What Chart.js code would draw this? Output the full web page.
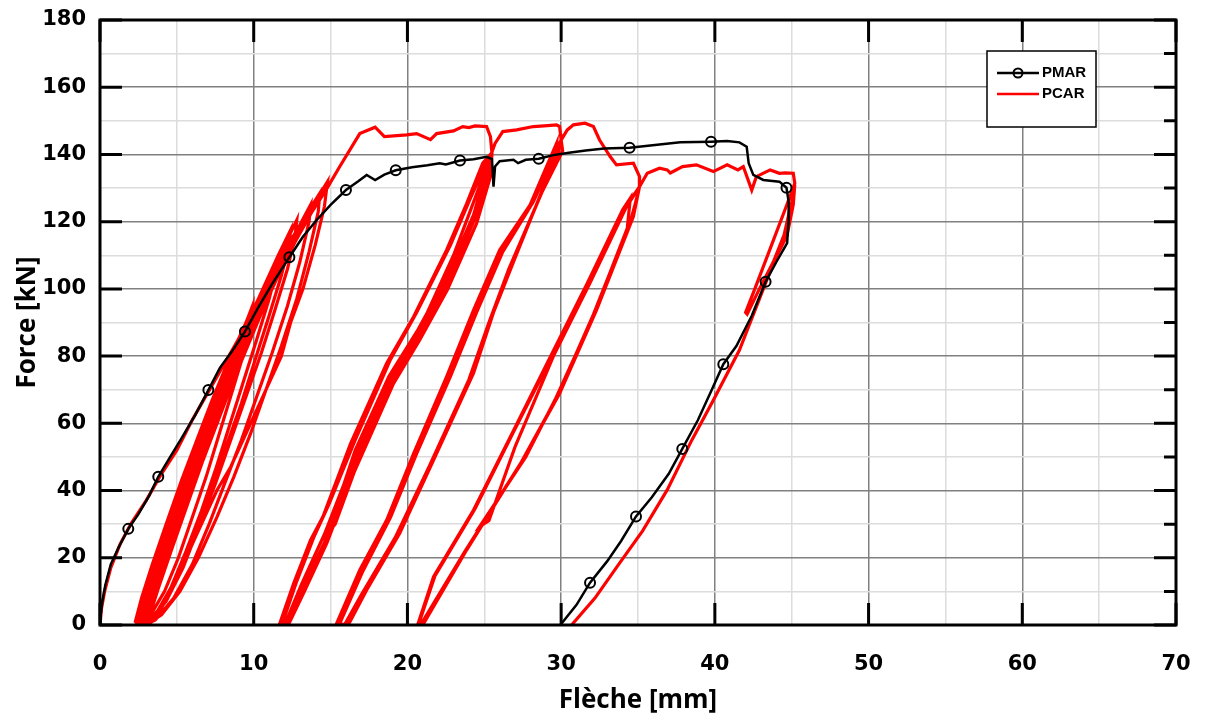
<!DOCTYPE html>
<html>
<head>
<meta charset="utf-8">
<script src="https://cdn.jsdelivr.net/npm/chart.js@4.4.1/dist/chart.umd.min.js"></script>
<style>
  html, body { margin: 0; padding: 0; background: #fff; }
</style>
</head>
<body>
<canvas id="chart" width="1205" height="720"></canvas>
<script>
// PMAR (monotonic test) - black line with circle markers
const pmarX = [0, 0.05, 0.15, 0.35, 0.7, 1.2, 1.84, 2.5, 3.2, 3.79, 4.5, 5.3, 6.2, 7.05, 7.8, 8.6, 9.43,
  10.3, 11.2, 12.32, 13.2, 14.1, 15.0, 16.0, 16.8, 17.35, 17.9, 18.5, 19.24, 20.3, 21.3, 22.1, 22.5,
  23.42, 24.3, 25.15, 25.5, 25.6, 25.7, 26, 26.9, 27.2, 27.7, 28.54, 29.5, 30.5, 31.6, 32.8, 34.45,
  35.5, 36.7, 37.75, 38.8, 39.75, 40.8, 41.6, 42.07, 42.2, 42.5, 43.15, 44.2, 44.66, 44.8, 44.8,
  44.7, 44.0, 43.3, 42.4, 41.4, 40.55, 39.8, 38.9, 37.88, 37.0, 35.9, 34.87, 33.9, 33, 31.88, 31.0,
  30.3, 29.95];
const pmarY = [0, 3, 7, 12, 18, 23, 28.6, 33, 38.5, 44.1, 49.5, 55.5, 62.5, 69.9, 76.5, 81.5, 87.3,
  94.5, 101.5, 109.4, 115.5, 120.5, 125, 129.4, 132, 133.9, 132.4, 134, 135.3, 136.2, 136.8, 137.4, 137,
  138.2, 138.6, 139.3, 138.6, 130.4, 136.4, 138, 138.4, 137.4, 138.4, 138.7, 139.8, 140.5, 141.2, 141.8, 142,
  142.5, 143.1, 143.6, 143.7, 143.8, 144, 143.6, 142.3, 137.4, 133.9, 132.4, 131.9, 130.1, 126, 120.5,
  113.6, 108, 102.1, 92, 83, 77.6, 70, 61, 52.4, 45, 38, 32.3, 25, 19, 12.6, 6,
  2, 0];
// indices of the PMAR points that carry a circle marker
const pmarMarkers = [6, 9, 13, 16, 19, 23, 28, 33, 43, 48, 53, 61, 66, 69, 72, 75, 78];

// PCAR (cyclic test) - red line, in order of the loading history
const pcarFirstLoad = [[0,0],[0.1,5],[0.3,10],[0.7,17],[1.3,24],[2,30],[3,37],[4,45],[5,52],[6,61],
  [7,69],[8,77],[9,85],[9.5,90],[9.9,94.7]];
const pcarGroup1 = [
  [9.8,90],[9.3,80],[8.5,68],[7.7,56],[6.9,44],[6.0,32],[5.1,20],[4.2,10],[3.3,3],[2.5,0],
  [2.3,1],[2.7,8],[3.4,18],[4.3,30],[5.3,43],[6.3,55],[7.3,67],[8.3,78],[9.3,88],[10.3,97],[11.0,103],[11.5,107.7],
  [11.4,104],[11.0,97],[10.2,85],[9.3,72],[8.4,59],[7.5,46],[6.6,34],[5.6,22],[4.6,11],[3.6,3],[2.6,0],
  [2.4,1],[2.9,9],[3.7,20],[4.7,33],[5.7,46],[6.7,58],[7.7,70],[8.7,81],[9.7,91],[10.7,101],[11.6,110],[12.4,117.5],
  [12.3,113],[11.8,104],[11.0,92],[10.1,79],[9.2,66],[8.2,53],[7.2,40],[6.2,28],[5.2,16],[4.1,6],[3.0,0.5],[2.7,0],
  [2.5,1],[3.1,10],[3.9,21],[4.9,34],[5.9,47],[6.9,59],[7.9,71],[8.9,82],[9.9,92],[10.9,102],[11.9,112],[12.8,120.5],
  [12.7,116],[12.2,106],[11.4,94],[10.5,81],[9.5,68],[8.5,55],[7.5,42],[6.5,30],[5.4,17],[4.3,7],[3.2,1],[2.8,0],
  [2.6,1],[3.3,11],[4.1,22],[5.1,35],[6.1,48],[7.1,60],[8.1,72],[9.1,83],[10.1,93],[11.1,103],[12.1,112],[13.0,119],[13.7,125],
  [13.6,120],[13.0,108],[12.2,95],[11.2,81],[10.2,68],[9.2,55],[8.1,42],[7.1,30],[6.0,18],[4.8,8],[3.6,1.5],[2.9,0],
  [2.7,1],[3.4,11],[4.3,23],[5.3,36],[6.3,49],[7.3,61],[8.3,73],[9.3,84],[10.3,94],[11.3,104],[12.3,113],[13.4,122],[14.3,128.5],
  [14.2,123],[13.6,111],[12.8,97],[11.8,83],[10.8,70],[9.8,57],[8.7,44],[7.6,32],[6.4,20],[5.2,10],[4.0,3],[3.0,0],
  [2.9,1],[3.6,11],[4.5,23],[5.5,36],[6.5,49],[7.5,61],[8.5,73],[9.5,84],[10.5,95],[11.5,105],[12.5,114],[13.6,123],[14.8,131.9],
  [14.6,124.5],[14.0,113],[13.2,100],[12.4,90],[11.8,80],[10.6,68],[9.4,56],[8.5,47],[7.6,40],[6.4,28],[5.6,20],[4.9,13],[4.0,5],[3.2,0],
  [3.1,1],[3.8,11],[4.7,23],[5.7,36],[6.7,49],[7.7,61],[8.7,73],[9.7,84],[10.7,95],[11.7,105],[12.7,114],[13.8,123],[14.7,129.4]
];
const pcarPlateau1 = [[15.6,136.4],[16.9,146.2],[17.9,148.1],[18.5,145.3],[19.95,145.8],[20.6,146.2],[21.5,144.4],
  [21.9,146.2],[23,147],[23.6,148.3],[24,148],[24.4,148.5],[25.15,148.3],[25.4,145.3],[25.5,140.3]];
const pcarGroup2 = [
  [25.4,133.4],[24.5,119.5],[22.6,99.7],[20.8,84.8],[19.1,71.9],[16.5,45.1],[14.75,24.3],[13.3,10],[12.25,0],
  [11.7,0.5],[12.6,12.4],[13.7,25.3],[14.5,32.2],[16.3,54],[18.65,77.9],[20.4,91.7],[22.55,111.6],[23.85,125.4],[24.9,137.4],[25.3,139.5],
  [25.2,135],[24.2,120],[22.4,101],[20.6,86],[18.9,73],[16.3,47],[14.6,27],[13.1,12],[12.1,1],[12.0,0],
  [11.9,1],[12.8,13],[13.9,26],[14.9,36],[16.6,55],[18.9,79],[20.6,93],[22.8,113],[24.1,127],[25.0,136],[25.3,138],
  [24.3,122],[22.5,103],[20.7,88],[18.8,74],[16.6,52],[15.0,30],[14.8,27.3],
  [15.3,30],[16.9,50],[19.2,76],[21,90],[23,110],[24.4,127],[25.4,139.3],
  [25.3,134],[24.4,121],[22.5,100.5],[20.7,85.5],[19.0,72.5],[16.4,46],[14.7,25.5],[13.2,11],[12.2,0.5],[11.8,0],
  [11.8,1],[12.7,12.8],[13.8,25.6],[14.7,34],[16.45,54.5],[18.8,78.5],[20.5,92.3],[22.7,112.3],[24.0,126.2],[24.95,136.8],[25.4,139.5]
];
const pcarPlateau2 = [[25.7,143.3],[26.2,146.8],[27.1,147.3],[28.2,148.3],[28.9,148.5],[29.7,148.8],[29.9,148.3],[30.0,144.3]];
const pcarGroup3 = [
  [30.1,141],[28.6,127.4],[26.9,108],[25.6,93],[24.3,74.9],[21.7,49.1],[19.5,27.3],[17.35,10.4],[16.15,0],
  [15.4,0.5],[16.9,16.4],[18.65,31.2],[20.4,51],[22.55,73.9],[24.3,93.7],[26,111.6],[27.98,125],[29.7,143.3],
  [29.6,139],[28.3,124],[26.6,106],[25.3,90],[24.0,73],[21.4,47],[19.2,26],[17.0,9],[15.9,0],
  [15.6,0.5],[17.1,16],[18.9,32],[20.6,51],[22.8,74],[24.5,93],[26.2,111],[28.2,126],[29.9,143],
  [29.8,140],[28.45,125.5],[26.75,107],[25.45,91.5],[24.15,74],[21.55,48],[19.35,26.6],[17.2,9.7],[16.0,0],
  [15.5,0.5],[17.0,16.2],[18.8,31.6],[20.5,51],[22.7,74],[24.4,93.3],[26.1,111.3],[28.1,125.5],[29.9,143.5]
];
const pcarPeak3 = [[30.4,147.3],[30.8,148.8],[31.55,149.3],[32.1,148.3],[32.5,144.3],[33.2,139.3],[33.6,136.9],
  [34.7,137.4],[35.1,133.4],[35.1,130.4]];
const pcarGroup4 = [
  [34.7,121.5],[32.3,93.7],[29.9,68.9],[27.5,49.1],[23.85,22.3],[21.0,0],
  [20.7,0.5],[21.7,14.4],[24.3,34.2],[26.7,56],[29.3,79.8],[31.7,101.7],[34.0,123.5],[34.5,127],
  [34.3,118],[32.0,91],[29.6,67],[27.7,50],[24.7,29.3],
  [25.3,31],[27.0,53],[29.5,80],[31.9,102],[34.2,124],[35.1,130.4],
  [34.8,125],[34.5,120],[32.1,92.4],[29.75,68],[27.35,48],[23.7,21.6],[20.85,0],
  [20.75,0.5],[21.8,14.7],[24.4,34.6],[26.8,56.5],[29.4,79.9],[31.8,101.8],[34.1,123.8],[35.1,130.4]
];
const pcarPlateau4 = [[35.6,134.4],[36.4,135.9],[36.9,135.4],[37.1,134.5],[37.9,136.4],[38.8,136.9],[39.9,134.9],
  [40.8,136.9],[41.5,135.4],[41.85,136.4],[42.4,129.4],[42.7,133.4],[43.6,135.4],[44.2,134.4],[44.57,134.5],
  [45.1,134.4],[45.2,131.4]];
const pcarLastUnload = [[44.6,124],[43.6,112],[42.6,100],[42.0,93],[42.1,92.5],[42.9,100],[43.8,108],[44.5,116],
  [45.0,126],[45.2,131],[45.1,125],[44.7,116],[43.8,107.6],[42.9,97],[41.6,81.8],[39.9,66.9],[38.5,55],
  [36.9,40.2],[35.3,28],[33.8,18.4],[32.2,8],[30.68,0]];

const xTickLabels = [0, 10, 20, 30, 40, 50, 60, 70];
const yTickLabels = [0, 20, 40, 60, 80, 100, 120, 140, 160, 180];

const pmarData = pmarX.map((x, i) => ({ x: x, y: pmarY[i] }));
const pcarData = [].concat(pcarFirstLoad, pcarGroup1, pcarPlateau1, pcarGroup2, pcarPlateau2,
  pcarGroup3, pcarPeak3, pcarGroup4, pcarPlateau4, pcarLastUnload).map(p => ({ x: p[0], y: p[1] }));

const tickFont = { family: 'DejaVu Sans', weight: 'bold', size: 21 };
const titleFont = { family: 'Open Sans', weight: 'bold', size: 26 };

// frame and inward ticks on all four sides
const framePlugin = {
  id: 'frame',
  afterDatasetsDraw(chart) {
    const { ctx, chartArea: a, scales } = chart;
    const x = scales.x, y = scales.y;
    ctx.save();
    ctx.strokeStyle = '#000';
    ctx.lineWidth = 3;
    ctx.beginPath();
    xTickLabels.forEach(v => {
      const px = x.getPixelForValue(v);
      ctx.moveTo(px, a.bottom); ctx.lineTo(px, a.bottom - 22);
      ctx.moveTo(px, a.top); ctx.lineTo(px, a.top + 22);
    });
    for (let v = 0; v <= 180; v += 10) {
      const py = y.getPixelForValue(v);
      const major = v % 20 === 0;
      if (major) { ctx.moveTo(a.left, py); ctx.lineTo(a.left + 22, py); }
      ctx.moveTo(a.right, py); ctx.lineTo(a.right - (major ? 22 : 12), py);
    }
    ctx.stroke();
    ctx.strokeRect(a.left, a.top, a.right - a.left, a.bottom - a.top);
    ctx.restore();
  }
};

// boxed legend inside the plot, top right
const legendPlugin = {
  id: 'boxLegend',
  afterDraw(chart) {
    const { ctx, chartArea: a } = chart;
    const left = a.right - 189, top = a.top + 31;
    ctx.save();
    ctx.fillStyle = '#fff';
    ctx.fillRect(left, top, 109, 76);
    ctx.strokeStyle = '#000';
    ctx.lineWidth = 1.5;
    ctx.strokeRect(left, top, 109, 76);
    ctx.lineWidth = 2.5;
    ctx.beginPath();
    ctx.moveTo(left + 10, top + 22); ctx.lineTo(left + 52, top + 22);
    ctx.stroke();
    ctx.beginPath();
    ctx.arc(left + 31, top + 22, 4.5, 0, Math.PI * 2);
    ctx.lineWidth = 2;
    ctx.stroke();
    ctx.strokeStyle = '#ff0000';
    ctx.lineWidth = 2.5;
    ctx.beginPath();
    ctx.moveTo(left + 10, top + 43); ctx.lineTo(left + 52, top + 43);
    ctx.stroke();
    ctx.fillStyle = '#000';
    ctx.font = 'bold 15px "Liberation Sans", Arial, sans-serif';
    ctx.textBaseline = 'middle';
    ctx.fillText('PMAR', left + 55, top + 22);
    ctx.fillText('PCAR', left + 55, top + 43);
    ctx.restore();
  }
};

new Chart(document.getElementById('chart'), {
  type: 'scatter',
  data: {
    datasets: [
      {
        label: 'PMAR',
        data: pmarData,
        showLine: true,
        borderColor: '#000',
        borderWidth: 2.5,
        pointRadius: ctx => pmarMarkers.includes(ctx.dataIndex) ? 5 : 0,
        pointBorderWidth: 2,
        pointBorderColor: '#000',
        pointBackgroundColor: 'rgba(0,0,0,0)',
        pointHoverRadius: 0
      },
      {
        label: 'PCAR',
        data: pcarData,
        showLine: true,
        borderColor: '#ff0000',
        borderWidth: 3.2,
        pointRadius: 0,
        pointHoverRadius: 0
      }
    ]
  },
  options: {
    responsive: false,
    animation: false,
    devicePixelRatio: 1,
    layout: { autoPadding: false, padding: { top: 20, right: 29, left: 0, bottom: 0 } },
    plugins: {
      legend: { display: false },
      tooltip: { enabled: false }
    },
    scales: {
      x: {
        type: 'linear',
        min: 0, max: 70,
        afterFit: s => { s.height = 95; s.paddingLeft = 0; s.paddingRight = 0; },
        border: { display: false },
        grid: {
          drawTicks: false,
          color: c => (c.tick && c.tick.value % 10 === 0) ? '#808080' : '#dcdcdc',
          lineWidth: 1.5
        },
        ticks: {
          stepSize: 5,
          padding: 27,
          color: '#000',
          font: tickFont,
          maxRotation: 0,
          autoSkip: false,
          callback: v => xTickLabels.includes(v) ? v : ''
        },
        title: { display: true, text: 'Flèche [mm]', color: '#000', font: titleFont, padding: { top: 0 } }
      },
      y: {
        type: 'linear',
        min: 0, max: 180,
        afterFit: s => { s.width = 100; s.paddingTop = 0; s.paddingBottom = 0; },
        border: { display: false },
        grid: {
          drawTicks: false,
          color: c => (c.tick && c.tick.value % 20 === 0) ? '#808080' : '#dcdcdc',
          lineWidth: 1.5
        },
        ticks: {
          stepSize: 10,
          padding: 14,
          color: '#000',
          font: tickFont,
          autoSkip: false,
          callback: v => yTickLabels.includes(v) ? v : ''
        },
        title: { display: true, text: 'Force [kN]', color: '#000', font: titleFont, padding: { top: 12, bottom: 9 } }
      }
    }
  },
  plugins: [framePlugin, legendPlugin]
});
</script>
</body>
</html>
